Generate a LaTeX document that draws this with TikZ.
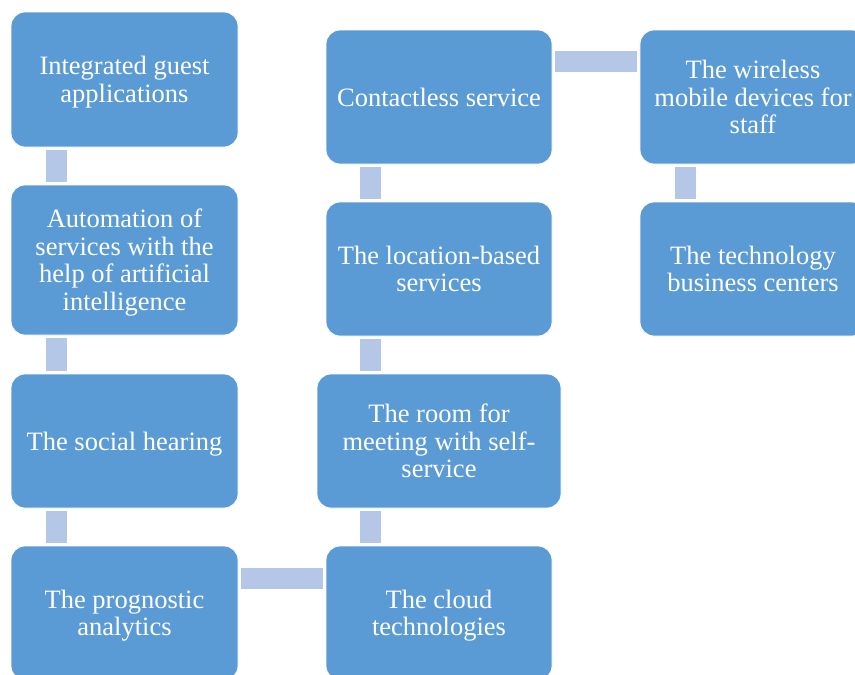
\documentclass[tikz,border=0pt]{standalone}
\usepackage{fontspec}
\setmainfont{Liberation Serif}
\definecolor{boxblue}{HTML}{5B9BD5}
\definecolor{connblue}{HTML}{B4C7E7}
\newcommand\tst{\rule{0pt}{24pt}}
\newcommand\bst{\rule[-5.75pt]{0pt}{5.75pt}}
\begin{document}
\begin{tikzpicture}[x=1pt,y=-1pt,
  box/.style={rectangle, rounded corners=14pt, fill=boxblue, draw=white, line width=0.8pt,
    text=white, align=center, minimum width=227pt, minimum height=135pt, inner sep=2pt,
    font=\fontsize{26.5}{27.5}\selectfont},
  conn/.style={draw=connblue, line width=21pt, line cap=butt, shorten <=3pt, shorten >=3pt}]
\useasboundingbox (0,0) rectangle (855,675);
\clip (0,0) rectangle (855,675);
\fill[white] (0,0) rectangle (855,675);
% left column
\node[box] (B1) at (124.5,79.5) {\tst Integrated guest\\applications\bst};
\node[box, minimum height=150pt] (B2) at (124.5,260) {\tst Automation of\\services with the\\help of artificial\\intelligence\bst};
\node[box, minimum height=134pt] (B3) at (124.5,441) {\tst The social hearing\bst};
\node[box, minimum height=134pt] (B4) at (124.5,613) {\tst The prognostic\\analytics\bst};
% middle column
\node[box, minimum width=226pt, minimum height=134pt] (C1) at (439,97) {\tst Contactless service\bst};
\node[box, minimum width=226pt, minimum height=134pt] (C2) at (439,269) {\tst The location-based\\services\bst};
\node[box, minimum width=244pt, minimum height=134pt] (C3) at (439,441) {\tst The room for\\meeting with self-\\service\bst};
\node[box, minimum width=226pt, minimum height=134pt] (C4) at (439,613) {\tst The cloud\\technologies\bst};
% right column
\node[box, minimum width=226pt, minimum height=134pt] (W1) at (753,97) {\tst The wireless\\mobile devices for\\staff\bst};
\node[box, minimum width=226pt, minimum height=134pt] (W2) at (753,269) {\tst The technology\\business centers\bst};
% connectors
\draw[conn] ([xshift=45.5pt]B1.south west) -- ([xshift=45.5pt]B2.north west);
\draw[conn] ([xshift=45.5pt]B2.south west) -- ([xshift=45.5pt]B3.north west);
\draw[conn] ([xshift=45.5pt]B3.south west) -- ([xshift=45.5pt]B4.north west);
\draw[conn] ([yshift=-33pt]B4.north east) -- ([yshift=-33pt]C4.north west);
\draw[conn] ([xshift=44.5pt]C4.north west) coordinate (t1) -- (t1 |- C3.south);
\draw[conn] ([xshift=44.5pt]C2.south west) coordinate (t2) -- (t2 |- C3.north);
\draw[conn] ([xshift=44.5pt]C2.north west) -- ([xshift=44.5pt]C1.south west);
\draw[conn] ([yshift=-32pt]C1.north east) -- ([yshift=-32pt]W1.north west);
\draw[conn] ([xshift=45.5pt]W1.south west) -- ([xshift=45.5pt]W2.north west);
\end{tikzpicture}
\end{document}
